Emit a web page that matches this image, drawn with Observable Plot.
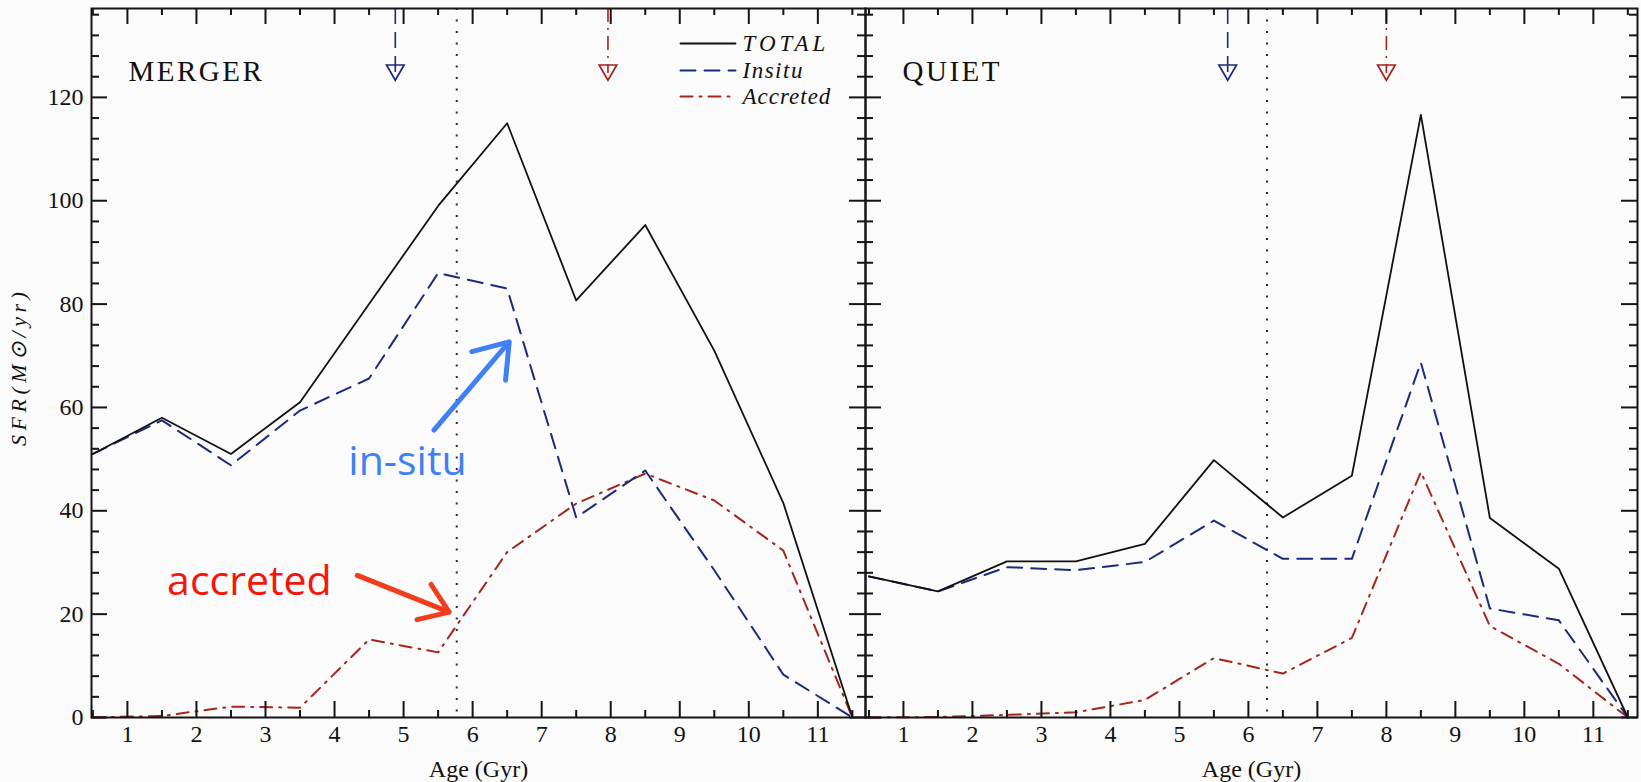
<!DOCTYPE html>
<html><head><meta charset="utf-8">
<script src="https://cdn.jsdelivr.net/npm/d3@7"></script>
<script src="https://cdn.jsdelivr.net/npm/@observablehq/plot@0.6"></script>
<style>
html,body{margin:0;padding:0;background:#fcfbfc;}
#wrap{position:relative;width:1641px;height:782px;overflow:hidden;background:#fcfbfc;}
#left,#right{position:absolute;top:0;}
#left{left:0;}
#right{left:840px;}
</style></head>
<body><div id="wrap"><div id="left"></div><div id="right"></div></div>
<script>
// ---- data ----
const ageBins = [0.5, 1.5, 2.5, 3.5, 4.5, 5.5, 6.5, 7.5, 8.5, 9.5, 10.5, 11.5];
const mergerTotal    = [51, 58, 51, 61, 80, 99, 115, 80.7, 95.3, 71, 41.5, 0];
const mergerInsitu   = [51, 57.5, 48.8, 59.4, 65.6, 86, 83, 38.7, 47.8, 28.5, 8.3, 0];
const mergerAccreted = [0, 0.3, 2.1, 1.9, 15.1, 12.6, 32, 41.4, 47.2, 42, 32.3, 0];
const quietTotal     = [27.3, 24.4, 30.2, 30.2, 33.6, 49.8, 38.7, 46.8, 116.6, 38.6, 28.8, 0];
const quietInsitu    = [27.3, 24.4, 29.1, 28.5, 30.1, 38.1, 30.7, 30.7, 68.7, 21.1, 18.8, 0];
const quietAccreted  = [0, 0.1, 0.5, 1.0, 3.4, 11.5, 8.5, 15.4, 47.5, 17.7, 10.4, 0];
const mergerDivide = [5.77];
const quietDivide = [6.27];
const mergerMarkers = {insitu: [4.88], accreted: [7.96]};
const quietMarkers  = {insitu: [5.70], accreted: [8.0]};
const markerTop = 137.2, markerStemEnd = 124.6, markerHead = 124.8;
const xMajor = [1,2,3,4,5,6,7,8,9,10,11];
const xMinor = [0.5,1.5,2.5,3.5,4.5,5.5,6.5,7.5,8.5,9.5,10.5,11.5];
const yMajor = [0,20,40,60,80,100,120];
const yMinor = d3.range(4, 137, 4).filter(v => v % 20 !== 0);
const yDomain = [0, 137.2];
const legendNames = ["TOTAL", "Insitu", "Accreted"];
const yLabel = "SFR(M\u2299/yr)";
const xLabel = "Age (Gyr)";
const insituNote = [{text: "in-situ", x: 4.20, y: 46.9}];
const insituPointer = [{x1: 5.44, y1: 55.6, x2: 6.53, y2: 72.7}];
const accretedNote = [{text: "accreted", x: 1.575, y: 23.8}];
const accretedPointer = [{x1: 4.33, y1: 27.5, x2: 5.66, y2: 20.4}];

// ---- styles ----
const C = {total: "#111111", insitu: "#1c2a7c", accreted: "#a3261c"};
const DASH = {total: null, insitu: "15,9", accreted: "12,7,2,7"};
const STEMDASH = {insitu: "16,8", accreted: "14,6,2,6"};
const W = {total: 1.8, insitu: 2, accreted: 2};
const H = 782, MT = 8, MB = 65, PH = H - MT - MB;

const downTriangle = {
  draw(ctx, size) {
    const r = Math.sqrt(size / Math.PI);
    const w = r * 1.1, h = r * 0.95;
    ctx.moveTo(-w, -h); ctx.lineTo(w, -h); ctx.lineTo(0, h); ctx.closePath();
  }
};
const lineShape = {draw(ctx, l) { ctx.moveTo(0, 0); ctx.lineTo(0, -l); }};

function rows(vals) { return ageBins.map((a, i) => ({age: a, sfr: vals[i]})); }

function tickMarks(PW) {
  const s = {stroke: "#151515", strokeWidth: 2};
  return [
    Plot.tickX(xMajor, {x: d => d, insetTop: PH - 16, ...s}),
    Plot.tickX(xMajor, {x: d => d, insetBottom: PH - 16, ...s}),
    Plot.tickX(xMinor, {x: d => d, insetTop: PH - 7, ...s}),
    Plot.tickX(xMinor, {x: d => d, insetBottom: PH - 7, ...s}),
    Plot.tickY(yMajor, {y: d => d, insetRight: PW - 16, ...s}),
    Plot.tickY(yMajor, {y: d => d, insetLeft: PW - 16, ...s}),
    Plot.tickY(yMinor, {y: d => d, insetRight: PW - 8, ...s}),
    Plot.tickY(yMinor, {y: d => d, insetLeft: PW - 8, ...s})
  ];
}

function seriesMarks(total, insitu, accreted) {
  return [
    Plot.line(rows(accreted), {x: "age", y: "sfr", stroke: C.accreted, strokeWidth: W.accreted, strokeDasharray: DASH.accreted}),
    Plot.line(rows(insitu), {x: "age", y: "sfr", stroke: C.insitu, strokeWidth: W.insitu, strokeDasharray: DASH.insitu}),
    Plot.line(rows(total), {x: "age", y: "sfr", stroke: C.total, strokeWidth: W.total})
  ];
}

function markerMarks(markers) {
  return ["insitu", "accreted"].flatMap(k => [
    Plot.ruleX(markers[k], {x: d => d, y1: () => markerTop, y2: () => markerStemEnd,
      stroke: C[k], strokeWidth: 1.6, strokeDasharray: STEMDASH[k]}),
    Plot.dot(markers[k], {x: d => d, y: () => markerHead, symbol: downTriangle, r: 8,
      stroke: C[k], fill: "none", strokeWidth: 1.7})
  ]);
}

function panel({width, ml, mr, xDomain, total, insitu, accreted, divide, markers, name, extra, showY}) {
  const PW = width - ml - mr;
  return Plot.plot({
    width, height: H,
    marginLeft: ml, marginRight: mr, marginTop: MT, marginBottom: MB,
    style: {fontFamily: "'Liberation Serif', serif", fontSize: "24px", color: "#111", background: "transparent", overflow: "visible"},
    x: {domain: xDomain, ticks: xMajor, tickSize: 0, tickPadding: 7, label: null},
    y: {domain: yDomain, ticks: yMajor, tickSize: 0, tickPadding: 8, label: null, axis: showY ? "left" : null},
    marks: [
      Plot.ruleX(divide, {x: d => d, stroke: "#2a2a3a", strokeWidth: 2, strokeDasharray: "2,9.5"}),
      ...seriesMarks(total, insitu, accreted),
      ...markerMarks(markers),
      ...tickMarks(PW),
      Plot.frame({stroke: "#151515", strokeWidth: 2}),
      Plot.text([name], {frameAnchor: "top-left", dx: 37, dy: 63, lineAnchor: "middle", textAnchor: "start", fontSize: 29}),
      Plot.text([xLabel], {frameAnchor: "bottom", dy: 52, lineAnchor: "middle", fontSize: 24}),
      ...extra
    ]
  });
}

const legendRows = [
  {key: "total", dy: 35},
  {key: "insitu", dy: 62},
  {key: "accreted", dy: 88}
];
const legendMarks = legendRows.flatMap((r, i) => [
  Plot.vector([r.key], {frameAnchor: "top-right", dx: -185, dy: r.dy, rotate: 90, length: 55, anchor: "start",
    shape: lineShape, stroke: C[r.key], strokeWidth: W[r.key], strokeDasharray: DASH[r.key]}),
  Plot.text([legendNames[i]], {frameAnchor: "top-right", dx: -123, dy: r.dy, textAnchor: "start", lineAnchor: "middle",
    fontSize: 23, fontStyle: "italic"})
]);

const annotationMarks = [
  Plot.arrow(insituPointer, {x1: "x1", y1: "y1", x2: "x2", y2: "y2", stroke: "#3f80f5", strokeWidth: 5, headLength: 20, headAngle: 70}),
  Plot.text(insituNote, {x: "x", y: "y", text: "text", textAnchor: "start", lineAnchor: "bottom", fill: "#3f80f5",
    fontSize: 41, fontFamily: "'Open Sans', sans-serif"}),
  Plot.arrow(accretedPointer, {x1: "x1", y1: "y1", x2: "x2", y2: "y2", stroke: "#f23d1c", strokeWidth: 5, headLength: 20, headAngle: 70}),
  Plot.text(accretedNote, {x: "x", y: "y", text: "text", textAnchor: "start", lineAnchor: "bottom", fill: "#f5150c",
    fontSize: 41, fontFamily: "'Open Sans', sans-serif"})
];

const yLabelMark = Plot.text([yLabel], {frameAnchor: "left", dx: -66, dy: 83, rotate: -90, textAnchor: "start",
  lineAnchor: "bottom", fontSize: 22, fontStyle: "italic"});

const left = panel({
  width: 866, ml: 91, mr: 1, xDomain: [0.48, 11.69],
  total: mergerTotal, insitu: mergerInsitu, accreted: mergerAccreted,
  divide: mergerDivide, markers: mergerMarkers, name: "MERGER", showY: true,
  extra: [...legendMarks, ...annotationMarks, yLabelMark]
});
const right = panel({
  width: 801, ml: 25, mr: 4, xDomain: [0.45, 11.64],
  total: quietTotal, insitu: quietInsitu, accreted: quietAccreted,
  divide: quietDivide, markers: quietMarkers, name: "QUIET", showY: false,
  extra: []
});
function spaceText(svg, content, spacing) {
  svg.querySelectorAll("text").forEach(t => { if (t.textContent === content) t.setAttribute("letter-spacing", spacing); });
}
spaceText(left, yLabel, "4.5px");
spaceText(left, "MERGER", "2.5px");
spaceText(right, "QUIET", "2.5px");
spaceText(left, "TOTAL", "4px");
spaceText(left, "Insitu", "1.5px");
spaceText(left, "Accreted", "1px");
document.getElementById("left").appendChild(left);
document.getElementById("right").appendChild(right);
</script>
</body></html>
